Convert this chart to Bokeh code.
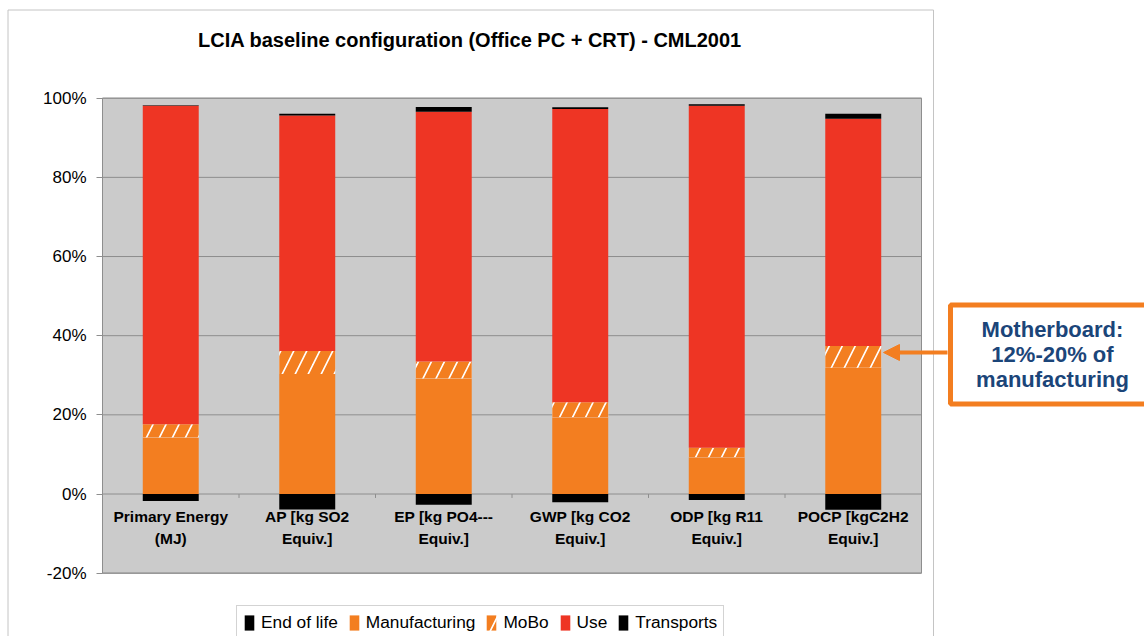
import numpy as np
from bokeh.plotting import figure
from bokeh.models import (Range1d, FixedTicker, PrintfTickFormatter, Legend, LegendItem,
                          Label, BoxAnnotation, Arrow, NormalHead, ColumnDataSource)
from bokeh.core.properties import value
from bokeh.embed import file_html
from bokeh.resources import INLINE

# ---------------- data (percent) ----------------
categories = ["Primary Energy\n(MJ)", "AP [kg SO2\nEquiv.]", "EP [kg PO4---\nEquiv.]",
              "GWP [kg CO2\nEquiv.]", "ODP [kg R11\nEquiv.]", "POCP [kgC2H2\nEquiv.]"]
end_of_life   = [-1.8, -3.9, -2.7, -2.1, -1.5, -4.0]
manufacturing = [14.3, 30.3, 29.2, 19.4, 9.3, 31.9]
mobo          = [3.3, 5.8, 4.3, 3.8, 2.4, 5.5]
use           = [80.5, 59.5, 63.1, 74.1, 86.4, 57.4]
transports    = [0.1, 0.5, 1.2, 0.4, 0.4, 1.3]
y_ticks = [-20, 0, 20, 40, 60, 80, 100]
series_names = ["End of life", "Manufacturing", "MoBo", "Use", "Transports"]
title_text = "LCIA baseline configuration (Office PC + CRT) - CML2001"
note_text = "Motherboard:\n12%-20% of\nmanufacturing"

# ---------------- styling ----------------
FONT = "Liberation Sans"
RED = "#EE3524"
ORANGE = "#F37E20"
BLACK = "#000000"
PLOT_BG = "#CBCBCB"
GRID = "#8E8E8E"
BLUE = "#1B4579"

W, H = 1144, 636

# page-pixel -> data helpers (plot area: x 102..921, 0% at y=493.5, 3.958 px per %)
def dx(px):
    return (px - 102) / 136.5

def dy(py):
    return (493.5 - py) / 3.958

n = len(categories)
x = np.arange(n) + 0.5
manu = np.array(manufacturing)
mob = np.array(mobo)
us = np.array(use)
tr = np.array(transports)
b_mobo = manu
b_use = manu + mob
b_tr = b_use + us

src = ColumnDataSource(dict(
    x=x, cat=categories,
    eol=end_of_life, zero=np.zeros(n),
    manu=manu, b_mobo=b_mobo, t_mobo=b_mobo + mob,
    b_use=b_use, t_use=b_use + us, b_tr=b_tr, t_tr=b_tr + tr,
))

p = figure(width=W, height=H, output_backend="svg", toolbar_location=None,
           x_range=Range1d(dx(0), dx(W)), y_range=Range1d(dy(H), dy(0)),
           x_axis_location=None, min_border=0)
p.background_fill_color = "white"
p.border_fill_color = "white"
p.outline_line_color = None
p.xgrid.visible = False
p.ygrid.visible = False

ymin, ymax = min(y_ticks), max(y_ticks)

# outer chart border
p.quad(left=[dx(7.5)], right=[dx(933)], top=[dy(9.5)], bottom=[dy(H + 20)],
       fill_color=None, line_color="#C4C4C4", line_width=1)

# plot area
p.quad(left=[0], right=[n], bottom=[ymin], top=[ymax], fill_color=PLOT_BG, line_color=GRID, line_width=1)
p.segment(x0=np.zeros(len(y_ticks)), x1=np.full(len(y_ticks), n), y0=y_ticks, y1=y_ticks,
          line_color=GRID, line_width=1)

ax = p.yaxis[0]
ax.fixed_location = 0
ax.bounds = (ymin, ymax)
ax.ticker = FixedTicker(ticks=y_ticks)
ax.formatter = PrintfTickFormatter(format="%d%%")
ax.major_label_text_font = FONT
ax.major_label_text_font_size = "17px"
ax.major_label_text_color = "black"
ax.axis_line_color = GRID
ax.major_tick_line_color = GRID
ax.major_tick_out = 6
ax.major_tick_in = 0
ax.minor_tick_line_color = None
ax.major_label_standoff = 10

bw = 0.41
r_eol = p.vbar(x="x", width=bw, bottom="eol", top="zero", source=src, fill_color=BLACK, line_color=None)
r_man = p.vbar(x="x", width=bw, bottom="zero", top="manu", source=src, fill_color=ORANGE, line_color=None)
r_mob = p.vbar(x="x", width=bw, bottom="b_mobo", top="t_mobo", source=src, fill_color="white",
               line_color=None, hatch_pattern="/", hatch_color=ORANGE, hatch_scale=26, hatch_weight=10)
r_use = p.vbar(x="x", width=bw, bottom="b_use", top="t_use", source=src, fill_color=RED, line_color=None)
r_tr = p.vbar(x="x", width=bw, bottom="b_tr", top="t_tr", source=src, fill_color=BLACK, line_color=None)

# category boundary ticks at the zero line
bnd = np.arange(1, n)
p.segment(x0=bnd, x1=bnd, y0=np.zeros(n - 1), y1=np.full(n - 1, -1.0), line_color=GRID, line_width=1)

# category labels inside the plot area just below the zero line
p.text(x="x", y="zero", text="cat", source=src, text_align="center", text_baseline="top",
       y_offset=14, text_font=value(FONT), text_font_style="bold", text_font_size="15.5px",
       text_line_height=1.29, text_color="black")

# legend below the plot area
legend = Legend(items=[LegendItem(label=nm, renderers=[r]) for nm, r in
                       zip(series_names, [r_eol, r_man, r_mob, r_use, r_tr])],
                orientation="horizontal", location=(236, H - 640),
                label_text_font=FONT, label_text_font_size="17.3px", label_text_color="black",
                glyph_width=12, glyph_height=19, label_standoff=6, spacing=10,
                padding=6, margin=0, label_height=20,
                border_line_color="#A8A8A8", border_line_width=1,
                background_fill_color="white", background_fill_alpha=1)
p.add_layout(legend, "center")

# title
p.add_layout(Label(x=dx(469.5), y=dy(39), text=title_text, text_align="center", text_baseline="middle",
                   text_font=FONT, text_font_style="bold", text_font_size="20px", text_color="black"))

# annotation box + arrow
p.add_layout(BoxAnnotation(left=dx(950), right=dx(1180), top=dy(304.5), bottom=dy(403.5),
                           fill_color="white", fill_alpha=1, line_color=ORANGE, line_alpha=1,
                           line_width=5))
p.add_layout(Label(x=dx(1052), y=dy(354), text=note_text, text_align="center", text_baseline="middle",
                   text_font=FONT, text_font_style="bold", text_font_size="22px", text_color=BLUE,
                   text_line_height=1.0))
p.add_layout(Arrow(x_start=dx(947), y_start=dy(352), x_end=dx(883), y_end=dy(352),
                   line_color=ORANGE, line_width=4,
                   end=NormalHead(size=16, fill_color=ORANGE, line_color=ORANGE)))

open("out.html", "w").write(file_html(p, INLINE))
